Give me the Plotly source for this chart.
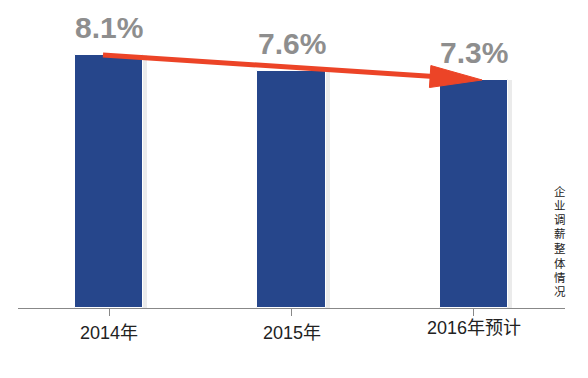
import math
import plotly.graph_objects as go

categories = ["2014年", "2015年", "2016年预计"]
values = [8.1, 7.6, 7.3]
value_labels = ["8.1%", "7.6%", "7.3%"]
side_title = "企业调薪整体情况"

W, H = 580, 370
L, R, T, B = 10, 23, 2, 70
ymax = 9.54

x_idx = list(range(len(categories)))
px_x = (W - L - R) / len(categories)      # pixels per category unit
px_y = (H - T - B) / ymax                 # pixels per value unit

fig = go.Figure()
# soft shadow behind bars
fig.add_trace(go.Bar(
    x=[i + 0.015 for i in x_idx], y=values, width=0.39,
    marker=dict(color="rgba(0,0,0,0.08)", line=dict(width=0)),
    hoverinfo="skip", showlegend=False,
))
fig.add_trace(go.Bar(
    x=x_idx, y=values, width=0.373,
    marker=dict(color="#26468b", line=dict(width=1, color="white")),
    showlegend=False,
))

# value labels
for i, (v, t) in enumerate(zip(values, value_labels)):
    fig.add_annotation(
        x=i, y=v, text=t, showarrow=False, yanchor="bottom", yshift=9,
        font=dict(family="Liberation Sans, Arial, sans-serif",
                  size=30, color="#8e8e8e", weight="bold"),
    )

# trend arrow from first value to last value
sx, sy = x_idx[0] - 0.034, values[0]
tx, ty = x_idx[-1] + 0.045, values[-1]
dxp = (tx - sx) * px_x
dyp = (ty - sy) * px_y
ln = math.hypot(dxp, dyp)
ux, uy = dxp / ln, dyp / ln
head_len, head_half = 52, 11
bx, by = tx - head_len * ux / px_x, ty - head_len * uy / px_y
nx, ny = -uy, ux
fig.add_trace(go.Scatter(
    x=[sx, bx + 0.02 * ux], y=[sy, by + 0.02 * uy], mode="lines",
    line=dict(color="#ec4427", width=5), hoverinfo="skip", showlegend=False,
))
fig.add_trace(go.Scatter(
    x=[tx, bx + head_half * nx / px_x, bx - head_half * nx / px_x, tx],
    y=[ty, by + head_half * ny / px_y, by - head_half * ny / px_y, ty],
    mode="lines", fill="toself", fillcolor="#ec4427",
    line=dict(color="#ec4427", width=1), hoverinfo="skip", showlegend=False,
))

# category labels
for i, c in enumerate(categories):
    fig.add_annotation(
        x=i, y=0, yref="y", text=c, showarrow=False, yanchor="top",
        yshift=-13 if i < len(categories) - 1 else -8,
        font=dict(family="Liberation Sans, Noto Sans CJK SC, sans-serif",
                  size=18, color="#222222"),
    )

# vertical side title, one character per line
n = len(side_title)
pitch = 14.4
for k, ch in enumerate(side_title):
    fig.add_annotation(
        x=1.0, xref="paper", xanchor="center", xshift=-5,
        y=0, yref="paper", yanchor="middle",
        yshift=16 + (n - 1 - k) * pitch,
        text=ch, showarrow=False, borderpad=0,
        font=dict(family="Liberation Sans, Noto Sans CJK SC, sans-serif",
                  size=11.5, color="#222222"),
    )

fig.update_layout(
    width=W, height=H,
    margin=dict(l=L, r=R, t=T, b=B),
    paper_bgcolor="white", plot_bgcolor="white",
    barmode="overlay", bargap=0,
    xaxis=dict(
        range=[-0.5, len(categories) - 0.5],
        tickmode="array", tickvals=x_idx, ticktext=categories,
        showticklabels=False,
        tickson="boundaries", ticks="outside", ticklen=7, tickcolor="#888888",
        showline=True, linecolor="#888888", linewidth=1,
        showgrid=False, zeroline=False,
    ),
    yaxis=dict(range=[0, ymax], visible=False, showgrid=False, zeroline=False),
)

fig.write_html("out.html")
